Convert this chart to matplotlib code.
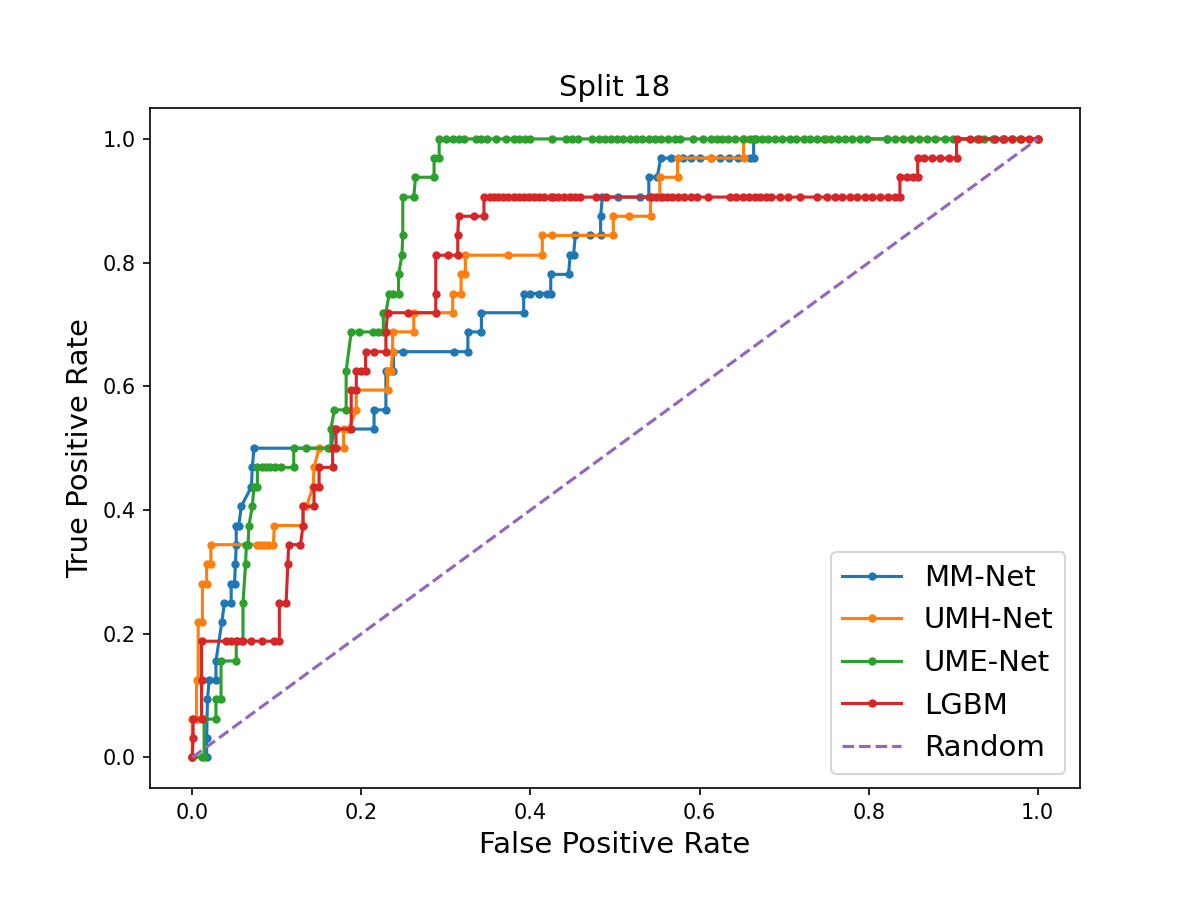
import matplotlib
matplotlib.use('Agg')
import matplotlib.pyplot as plt
import numpy as np

# MM-Net
mm_fpr = [0.0, 0.017, 0.017, 0.018, 0.020, 0.028, 0.028, 0.035, 0.038, 0.046,
          0.046, 0.050, 0.051, 0.052, 0.052, 0.055, 0.058, 0.070, 0.071, 0.073,
          0.164, 0.168, 0.215, 0.215, 0.229, 0.229, 0.238, 0.238, 0.249, 0.309,
          0.326, 0.326, 0.342, 0.342, 0.392, 0.392, 0.400, 0.410, 0.420, 0.424,
          0.424, 0.445, 0.447, 0.451, 0.453, 0.471, 0.483, 0.483, 0.485, 0.503,
          0.530, 0.540, 0.540, 0.550, 0.554, 0.566, 0.581, 0.590, 0.600, 0.613,
          0.624, 0.635, 0.645, 0.660, 0.664, 0.664, 0.822, 0.959, 1.0]
mm_tpr = [0.0, 0.0, 0.031, 0.094, 0.125, 0.125, 0.156, 0.219, 0.25, 0.25,
          0.281, 0.281, 0.312, 0.344, 0.375, 0.375, 0.406, 0.438, 0.469, 0.5,
          0.5, 0.531, 0.531, 0.562, 0.562, 0.625, 0.625, 0.656, 0.656, 0.656,
          0.656, 0.688, 0.688, 0.719, 0.719, 0.75, 0.75, 0.75, 0.75, 0.75,
          0.781, 0.781, 0.812, 0.812, 0.844, 0.844, 0.844, 0.875, 0.906, 0.906,
          0.906, 0.906, 0.938, 0.938, 0.969, 0.969, 0.969, 0.969, 0.969, 0.969,
          0.969, 0.969, 0.969, 0.969, 0.969, 1.0, 1.0, 1.0, 1.0]

# UMH-Net
umh_fpr = [0.0, 0.0, 0.005, 0.005, 0.007, 0.007, 0.012, 0.012, 0.017, 0.017,
           0.022, 0.022, 0.076, 0.080, 0.085, 0.090, 0.096, 0.097, 0.131, 0.131,
           0.135, 0.143, 0.144, 0.150, 0.179, 0.179, 0.185, 0.194, 0.194, 0.231,
           0.231, 0.235, 0.237, 0.237, 0.262, 0.262, 0.308, 0.308, 0.318, 0.318,
           0.323, 0.323, 0.373, 0.414, 0.414, 0.426, 0.498, 0.498, 0.517, 0.542,
           0.542, 0.553, 0.553, 0.574, 0.574, 0.613, 0.652, 0.652, 0.75, 0.85,
           1.0]
umh_tpr = [0.0, 0.062, 0.062, 0.125, 0.125, 0.219, 0.219, 0.281, 0.281, 0.312,
           0.312, 0.344, 0.344, 0.344, 0.344, 0.344, 0.344, 0.375, 0.375, 0.406,
           0.406, 0.438, 0.469, 0.5, 0.5, 0.531, 0.531, 0.562, 0.594, 0.594,
           0.625, 0.625, 0.656, 0.688, 0.688, 0.719, 0.719, 0.75, 0.75, 0.781,
           0.781, 0.812, 0.812, 0.812, 0.844, 0.844, 0.844, 0.875, 0.875, 0.875,
           0.906, 0.906, 0.938, 0.938, 0.969, 0.969, 0.969, 1.0, 1.0, 1.0,
           1.0]

# UME-Net
ume_fpr = [0.0, 0.011, 0.014, 0.014, 0.028, 0.028, 0.034, 0.034, 0.052, 0.052,
           0.060, 0.060, 0.063, 0.064, 0.066, 0.067, 0.071, 0.073, 0.077, 0.077,
           0.082, 0.087, 0.092, 0.098, 0.105, 0.120, 0.120, 0.135, 0.161, 0.164,
           0.164, 0.168, 0.182, 0.182, 0.188, 0.197, 0.214, 0.220, 0.226, 0.226,
           0.229, 0.233, 0.238, 0.244, 0.244, 0.248, 0.249, 0.249, 0.262, 0.264,
           0.286, 0.286, 0.292, 0.292,
           0.300, 0.308, 0.315, 0.321, 0.335, 0.342, 0.349, 0.359, 0.371, 0.380,
           0.387, 0.393, 0.400, 0.426, 0.442, 0.449, 0.456, 0.473, 0.481, 0.488,
           0.495, 0.502, 0.509, 0.518, 0.525, 0.532, 0.540, 0.547, 0.554, 0.563,
           0.571, 0.577, 0.592, 0.604, 0.613, 0.621, 0.627, 0.634, 0.642, 0.651,
           0.660, 0.667, 0.674, 0.681, 0.689, 0.698, 0.707, 0.714, 0.723, 0.731,
           0.739, 0.747, 0.756, 0.764, 0.772, 0.780, 0.790, 0.798, 0.822, 0.831,
           0.841, 0.850, 0.860, 0.869, 0.878, 0.890, 0.900, 0.928, 0.937, 0.947,
           0.959, 0.969, 0.979, 1.0]
ume_tpr = [0.0, 0.0, 0.0, 0.062, 0.062, 0.094, 0.094, 0.156, 0.156, 0.188,
           0.188, 0.25, 0.312, 0.344, 0.344, 0.375, 0.406, 0.438, 0.438, 0.469,
           0.469, 0.469, 0.469, 0.469, 0.469, 0.469, 0.5, 0.5, 0.5, 0.5,
           0.531, 0.562, 0.562, 0.625, 0.688, 0.688, 0.688, 0.688, 0.688, 0.719,
           0.719, 0.75, 0.75, 0.75, 0.781, 0.812, 0.844, 0.906, 0.906, 0.938,
           0.938, 0.969, 0.969, 1.0,
           1.0, 1.0, 1.0, 1.0, 1.0, 1.0, 1.0, 1.0, 1.0, 1.0,
           1.0, 1.0, 1.0, 1.0, 1.0, 1.0, 1.0, 1.0, 1.0, 1.0,
           1.0, 1.0, 1.0, 1.0, 1.0, 1.0, 1.0, 1.0, 1.0, 1.0,
           1.0, 1.0, 1.0, 1.0, 1.0, 1.0, 1.0, 1.0, 1.0, 1.0,
           1.0, 1.0, 1.0, 1.0, 1.0, 1.0, 1.0, 1.0, 1.0, 1.0,
           1.0, 1.0, 1.0, 1.0, 1.0, 1.0, 1.0, 1.0, 1.0, 1.0,
           1.0, 1.0, 1.0, 1.0, 1.0, 1.0, 1.0, 1.0, 1.0, 1.0,
           1.0, 1.0, 1.0, 1.0]

# LGBM
lgbm_fpr = [0.0, 0.001, 0.001, 0.011, 0.011, 0.011, 0.040, 0.046, 0.053, 0.059,
            0.070, 0.083, 0.097, 0.103, 0.103, 0.111, 0.113, 0.114, 0.128, 0.131,
            0.131, 0.144, 0.144, 0.150, 0.150, 0.166, 0.166, 0.170, 0.170, 0.188,
            0.188, 0.194, 0.194, 0.200, 0.205, 0.205, 0.215, 0.229, 0.229, 0.231,
            0.255, 0.288, 0.288, 0.288, 0.302, 0.314, 0.314, 0.315, 0.333, 0.345,
            0.345, 0.352, 0.357, 0.362, 0.368, 0.374, 0.380, 0.386, 0.392, 0.398,
            0.404, 0.410, 0.416, 0.424, 0.427, 0.433, 0.440, 0.447, 0.453, 0.459,
            0.477, 0.489, 0.542, 0.548, 0.555, 0.562, 0.568, 0.575, 0.582, 0.590,
            0.597, 0.610, 0.636, 0.643, 0.651, 0.658, 0.665, 0.672, 0.679, 0.684,
            0.695, 0.705, 0.719, 0.739, 0.751, 0.760, 0.769, 0.778, 0.786, 0.796,
            0.804, 0.813, 0.823, 0.831, 0.837, 0.837, 0.845, 0.852, 0.858, 0.858,
            0.866, 0.875, 0.885, 0.895, 0.904, 0.904, 0.920, 0.930, 0.950, 0.960,
            0.970, 0.980, 0.990, 1.0]
lgbm_tpr = [0.0, 0.031, 0.062, 0.062, 0.125, 0.188, 0.188, 0.188, 0.188, 0.188,
            0.188, 0.188, 0.188, 0.188, 0.25, 0.25, 0.312, 0.344, 0.344, 0.375,
            0.406, 0.406, 0.438, 0.438, 0.469, 0.469, 0.5, 0.5, 0.531, 0.531,
            0.594, 0.594, 0.625, 0.625, 0.625, 0.656, 0.656, 0.656, 0.688, 0.719,
            0.719, 0.719, 0.75, 0.812, 0.812, 0.812, 0.844, 0.875, 0.875, 0.875,
            0.906, 0.906, 0.906, 0.906, 0.906, 0.906, 0.906, 0.906, 0.906, 0.906,
            0.906, 0.906, 0.906, 0.906, 0.906, 0.906, 0.906, 0.906, 0.906, 0.906,
            0.906, 0.906, 0.906, 0.906, 0.906, 0.906, 0.906, 0.906, 0.906, 0.906,
            0.906, 0.906, 0.906, 0.906, 0.906, 0.906, 0.906, 0.906, 0.906, 0.906,
            0.906, 0.906, 0.906, 0.906, 0.906, 0.906, 0.906, 0.906, 0.906, 0.906,
            0.906, 0.906, 0.906, 0.906, 0.906, 0.938, 0.938, 0.938, 0.938, 0.969,
            0.969, 0.969, 0.969, 0.969, 0.969, 1.0, 1.0, 1.0, 1.0, 1.0,
            1.0, 1.0, 1.0, 1.0]

random_fpr = [0.0, 1.0]
random_tpr = [0.0, 1.0]

fig, ax = plt.subplots(figsize=(8, 6), dpi=150)
fig.subplots_adjust(bottom=0.124)

ax.plot(mm_fpr, mm_tpr, marker='.', label='MM-Net')
ax.plot(umh_fpr, umh_tpr, marker='.', label='UMH-Net')
ax.plot(ume_fpr, ume_tpr, marker='.', label='UME-Net')
ax.plot(lgbm_fpr, lgbm_tpr, marker='.', label='LGBM')
ax.plot(random_fpr, random_tpr, linestyle='--', label='Random')

ax.set_title('Split 18', fontsize=14)
ax.set_xlabel('False Positive Rate', fontsize=14)
ax.set_ylabel('True Positive Rate', fontsize=14)
ax.legend(loc='lower right', fontsize=14)

fig.savefig('out.png', dpi=150)
